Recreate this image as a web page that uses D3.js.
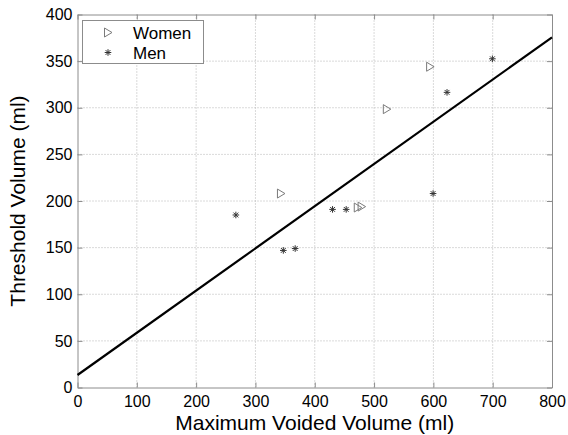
<!DOCTYPE html>
<html>
<head>
<meta charset="utf-8">
<script src="https://cdn.jsdelivr.net/npm/d3@7"></script>
<style>
body { margin: 0; background: #fff; }
svg { display: block; font-family: "Liberation Sans", Arial, sans-serif; }
</style>
</head>
<body>
<svg id="chart" width="568" height="435"></svg>
<script>
// data
var womenX = [343, 472.5, 479, 521.5, 594.5];
var womenY = [208, 193, 194, 298.5, 344];
var menX = [267, 347, 367, 430, 453, 599.5, 623, 699.5];
var menY = [185, 147, 149, 191, 191, 208, 316.5, 352.5];
var fitX = [0, 800];
var fitY = [13.4, 375.5];
var xTicks = [0, 100, 200, 300, 400, 500, 600, 700, 800];
var yTicks = [0, 50, 100, 150, 200, 250, 300, 350, 400];

var svg = d3.select("#chart");
// plot box (window.top is reserved, so no "top" here)
var pLeft = 77.5, pRight = 552, pTop = 14.5, pBottom = 387.5;

var x = d3.scaleLinear().domain([0, 800]).range([pLeft, pRight]);
var y = d3.scaleLinear().domain([0, 400]).range([pBottom, pTop]);

// grid
svg.append("g").selectAll("line").data(xTicks.slice(1, -1)).enter().append("line")
    .attr("x1", d => x(d)).attr("x2", d => x(d))
    .attr("y1", pTop).attr("y2", pBottom)
    .style("stroke", "#b4b4b4").style("stroke-width", 1).style("stroke-dasharray", "1,2");
svg.append("g").selectAll("line").data(yTicks.slice(1, -1)).enter().append("line")
    .attr("x1", pLeft).attr("x2", pRight)
    .attr("y1", d => y(d)).attr("y2", d => y(d))
    .style("stroke", "#b4b4b4").style("stroke-width", 1).style("stroke-dasharray", "1,2");

// axes (ticks inside, like matlab)
svg.append("g").attr("transform", "translate(0," + pBottom + ")")
    .call(d3.axisBottom(x).tickValues(xTicks).tickSizeInner(-5).tickSizeOuter(0).tickPadding(8.5));
svg.append("g").attr("transform", "translate(" + pLeft + ",0)")
    .call(d3.axisLeft(y).tickValues(yTicks).tickSizeInner(-5).tickSizeOuter(0).tickPadding(5));
svg.append("g").attr("transform", "translate(0," + pTop + ")")
    .call(d3.axisTop(x).tickValues(xTicks).tickSizeInner(-5).tickSizeOuter(0).tickFormat(""));
svg.append("g").attr("transform", "translate(" + pRight + ",0)")
    .call(d3.axisRight(y).tickValues(yTicks).tickSizeInner(-5).tickSizeOuter(0).tickFormat(""));

svg.selectAll(".domain").style("stroke", "#8c8c8c");
svg.selectAll(".tick line").style("stroke", "#8c8c8c");
svg.selectAll(".tick text").style("font-size", "16px").style("fill", "#000")
    .style("font-family", "'Liberation Sans', Arial, sans-serif");

// fit line
var line = d3.line().x(d => x(d[0])).y(d => y(d[1]));
svg.append("path").datum(d3.zip(fitX, fitY))
    .attr("d", line)
    .style("fill", "none").style("stroke", "#000").style("stroke-width", 2.2);

// markers
function tri(cx, cy) {
    return "M" + (cx - 3.5) + "," + (cy - 4.5) + "L" + (cx + 4) + "," + cy + "L" + (cx - 3.5) + "," + (cy + 4.5) + "Z";
}
function star(cx, cy) {
    var r = 3.3, d = 2.4;
    return "M" + (cx - r) + "," + cy + "L" + (cx + r) + "," + cy +
        "M" + cx + "," + (cy - r) + "L" + cx + "," + (cy + r) +
        "M" + (cx - d) + "," + (cy - d) + "L" + (cx + d) + "," + (cy + d) +
        "M" + (cx - d) + "," + (cy + d) + "L" + (cx + d) + "," + (cy - d);
}

svg.append("g").selectAll("path").data(d3.zip(womenX, womenY)).enter().append("path")
    .attr("d", d => tri(x(d[0]), y(d[1])))
    .style("fill", "none").style("stroke", "#7a7a7a").style("stroke-width", 1);

svg.append("g").selectAll("path").data(d3.zip(menX, menY)).enter().append("path")
    .attr("d", d => star(x(d[0]), y(d[1])))
    .style("fill", "none").style("stroke", "#333").style("stroke-width", 1);

// legend
var lg = svg.append("g");
lg.append("rect").attr("x", 82.5).attr("y", 20.5).attr("width", 121).attr("height", 43)
    .style("fill", "#fff").style("stroke", "#8c8c8c").style("stroke-width", 1);
lg.append("path").attr("d", tri(108, 32.5))
    .style("fill", "none").style("stroke", "#7a7a7a").style("stroke-width", 1);
lg.append("path").attr("d", star(108, 52.5))
    .style("fill", "none").style("stroke", "#333").style("stroke-width", 1);
lg.append("text").attr("x", 133).attr("y", 38.5).text("Women").style("font-size", "17px");
lg.append("text").attr("x", 133).attr("y", 58.5).text("Men").style("font-size", "17px");

// axis titles
svg.append("text").attr("x", (pLeft + pRight) / 2).attr("y", 429.5)
    .attr("text-anchor", "middle").style("font-size", "21px")
    .text("Maximum Voided Volume (ml)");
svg.append("text").attr("transform", "translate(25," + ((pTop + pBottom) / 2) + ") rotate(-90)")
    .attr("text-anchor", "middle").style("font-size", "21px")
    .text("Threshold Volume (ml)");
</script>
</body>
</html>
